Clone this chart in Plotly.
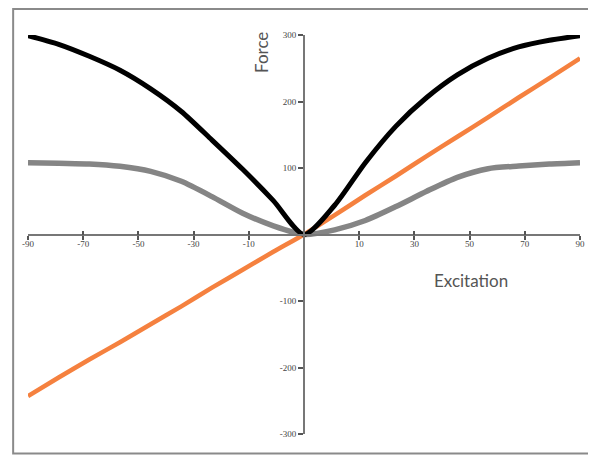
import plotly.graph_objects as go

# Data
excitation = [-90, -80, -70, -60, -50, -40, -30, -20, -10, 0,
              10, 20, 30, 40, 50, 60, 70, 80, 90]
force_black = [299, 286, 268, 247, 219, 185, 142, 98, 51, 0,
               44, 108, 163, 206, 240, 265, 282, 292, 299]
force_gray = [108, 107, 106, 102.5, 95, 80, 57, 32, 13, 0,
              7, 21, 42, 65, 86, 99, 103, 106, 108]
force_orange = [-243, -215, -188, -162, -135, -108, -80, -53, -26, 0,
                29, 59, 88, 118, 147, 176, 206, 235, 265]

x_tick_pos = [-90, -72, -54, -36, -18, 18, 36, 54, 72, 90]
x_tick_text = ["-90", "-70", "-50", "-30", "-10", "10", "30", "50", "70", "90"]
y_tick_vals = [-300, -200, -100, 100, 200, 300]
y_tick_text = ["-300", "-200", "-100", "100", "200", "300"]

fig = go.Figure()
fig.add_trace(go.Scatter(x=excitation, y=force_gray, mode="lines",
                         line=dict(color="#858585", width=5.5, shape="spline", smoothing=0.7),
                         showlegend=False))
fig.add_trace(go.Scatter(x=excitation, y=force_orange, mode="lines",
                         line=dict(color="#F5813F", width=4.5, shape="spline", smoothing=0.7),
                         showlegend=False))
fig.add_trace(go.Scatter(x=excitation, y=force_black, mode="lines",
                         line=dict(color="#000000", width=5, shape="spline", smoothing=0.7),
                         showlegend=False))

tick_font = dict(family="Liberation Serif", size=9, color="#444444")
x_lo, x_hi = -90, 90
y_lo, y_hi = -300, 300

fig.update_layout(
    width=588, height=447,
    margin=dict(l=20, r=11, t=27, b=21),
    paper_bgcolor="white", plot_bgcolor="white",
    xaxis=dict(range=[x_lo, x_hi], showgrid=False, zeroline=False,
               showline=True, linecolor="#777777", linewidth=2,
               anchor="free", position=0.5,
               tickvals=x_tick_pos, ticktext=x_tick_text,
               ticks="outside", ticklen=4, tickwidth=1.5, tickcolor="#555555",
               ticklabelstandoff=-3,
               tickfont=tick_font),
    xaxis2=dict(range=[x_lo, x_hi], overlaying="x", showgrid=False, zeroline=False,
                showline=False, anchor="free", position=0.5, side="bottom",
                tickvals=x_tick_pos, showticklabels=False,
                ticks="inside", ticklen=4, tickwidth=1.5, tickcolor="#555555"),
    yaxis=dict(range=[y_lo, y_hi], showgrid=False, zeroline=False,
               showline=True, linecolor="#777777", linewidth=2,
               anchor="free", position=0.5,
               tickvals=y_tick_vals, ticktext=y_tick_text,
               ticks="outside", ticklen=5, tickwidth=1.5, tickcolor="#555555",
               tickfont=tick_font),
    shapes=[dict(type="rect", xref="paper", yref="paper",
                 x0=-0.0269, x1=1.05, y0=-0.0489, y1=1.0652,
                 line=dict(color="#8a8a8a", width=2), fillcolor="rgba(0,0,0,0)",
                 layer="below")],
    annotations=[
        dict(text="Force", x=-13.8, y=274, xref="x", yref="y", showarrow=False,
             textangle=-90, font=dict(family="Lato", size=17, color="#555555")),
        dict(text="Excitation", x=54.5, y=-69, xref="x", yref="y", showarrow=False,
             font=dict(family="Lato", size=17, color="#555555")),
    ],
)
# invisible helper trace so xaxis2 is drawn
fig.add_trace(go.Scatter(x=[excitation[0]], y=[force_black[0]], xaxis="x2",
                         mode="markers", marker=dict(opacity=0), showlegend=False,
                         hoverinfo="skip"))

fig.write_html("out.html")
